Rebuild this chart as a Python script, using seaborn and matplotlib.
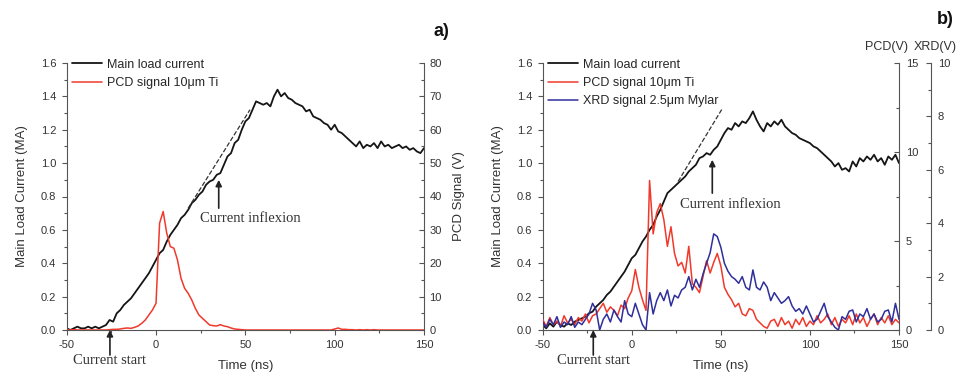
import matplotlib
matplotlib.use("Agg")
import matplotlib.pyplot as plt
import numpy as np
import seaborn as sns
from matplotlib.ticker import FormatStrFormatter, MultipleLocator

# time axis, 2 ns steps from -50 to 150 ns
t_ns = np.arange(-50, 151, 2)

# panel a) main load current (MA) and PCD signal (V)
current_a = [
    0.01, 0.00, 0.01, 0.02, 0.01, 0.01, 0.02, 0.01, 0.02, 0.01,
    0.02, 0.03, 0.06, 0.05, 0.10, 0.12, 0.15, 0.17, 0.19, 0.22,
    0.25, 0.28, 0.31, 0.34, 0.38, 0.42, 0.46, 0.48, 0.53, 0.57,
    0.60, 0.63, 0.67, 0.69, 0.72, 0.76, 0.78, 0.81, 0.83, 0.87,
    0.89, 0.90, 0.93, 0.94, 0.99, 1.04, 1.06, 1.12, 1.14, 1.20,
    1.25, 1.27, 1.32, 1.37, 1.36, 1.35, 1.36, 1.34, 1.40, 1.44,
    1.40, 1.42, 1.39, 1.38, 1.36, 1.35, 1.34, 1.31, 1.32, 1.28,
    1.27, 1.26, 1.24, 1.23, 1.20, 1.23, 1.19, 1.18, 1.16, 1.14,
    1.12, 1.10, 1.13, 1.09, 1.11, 1.10, 1.12, 1.09, 1.13, 1.10,
    1.11, 1.09, 1.10, 1.11, 1.09, 1.10, 1.08, 1.09, 1.07, 1.06,
    1.09,
]
pcd_a = [
    0.0, 0.0, 0.1, 0.0, 0.0, 0.0, 0.0, 0.0, 0.0, 0.0,
    0.0, 0.0, 0.1, 0.2, 0.2, 0.3, 0.5, 0.6, 0.5, 0.8,
    1.2, 2.0, 3.0, 4.5, 6.0, 8.0, 32.0, 35.5, 29.0, 25.0,
    24.5, 21.0, 15.5, 12.5, 11.0, 9.0, 6.5, 4.5, 3.5, 2.5,
    1.5, 1.3, 1.2, 1.6, 1.2, 1.0, 0.6, 0.3, 0.2, 0.1,
    0.0, 0.0, 0.0, 0.0, 0.0, 0.0, 0.0, 0.0, 0.0, 0.0,
    0.0, 0.0, 0.0, 0.0, 0.0, 0.0, 0.0, 0.0, 0.0, 0.0,
    0.0, 0.0, 0.0, 0.0, 0.0, 0.3, 0.6, 0.2, 0.2, 0.1,
    0.1, 0.0, 0.1, 0.0, 0.1, 0.0, 0.1, 0.0, 0.0, 0.0,
    0.0, 0.0, 0.0, 0.0, 0.0, 0.0, 0.0, 0.0, 0.0, 0.0,
    0.0,
]
tangent_a_t = [18, 52.6]
tangent_a_i = [0.73, 1.32]

# panel b) main load current (MA), PCD (V) and XRD (V)
current_b = [
    0.03, 0.01, 0.04, 0.02, 0.05, 0.03, 0.02, 0.04, 0.03, 0.05,
    0.06, 0.07, 0.08, 0.10, 0.11, 0.14, 0.16, 0.18, 0.21, 0.23,
    0.26, 0.29, 0.32, 0.35, 0.39, 0.43, 0.45, 0.49, 0.53, 0.56,
    0.60, 0.63, 0.68, 0.72, 0.77, 0.82, 0.84, 0.86, 0.88, 0.90,
    0.92, 0.95, 0.97, 0.99, 1.03, 1.04, 1.06, 1.05, 1.08, 1.10,
    1.14, 1.18, 1.21, 1.20, 1.24, 1.22, 1.25, 1.24, 1.27, 1.31,
    1.26, 1.22, 1.19, 1.24, 1.22, 1.25, 1.23, 1.26, 1.22, 1.20,
    1.18, 1.17, 1.15, 1.14, 1.13, 1.12, 1.10, 1.09, 1.07, 1.05,
    1.03, 1.01, 0.98, 1.00, 0.96, 0.97, 0.95, 1.01, 0.98, 1.03,
    1.01, 1.04, 1.02, 1.05, 1.01, 1.03, 0.99, 1.04, 1.02, 1.05,
    1.00,
]
pcd_b = [
    0.6, 0.2, 0.7, 0.3, 0.5, 0.2, 0.8, 0.4, 0.6, 0.3,
    0.7, 0.5, 0.9, 0.4, 0.8, 0.9, 1.2, 1.5, 1.0, 1.3,
    1.1, 0.8, 1.4, 1.2, 1.8, 2.2, 3.4, 2.4, 1.7, 1.1,
    8.4, 5.4, 6.6, 7.1, 6.2, 4.7, 5.8, 4.3, 3.6, 3.8,
    3.2, 4.7, 2.6, 2.4, 2.1, 3.0, 3.9, 3.2, 3.8, 4.3,
    3.6, 2.4, 2.0, 1.7, 1.3, 1.5, 0.9, 0.8, 1.2, 1.1,
    0.6, 0.4, 0.2, 0.1, 0.5, 0.6, 0.2, 0.7, 0.3, 0.5,
    0.1, 0.6, 0.3, 0.7, 0.2, 0.5, 0.3, 0.8, 0.4, 0.6,
    0.9, 0.3, 0.7, 0.2, 0.6, 0.4, 0.8, 0.3, 0.9, 0.4,
    0.7, 0.2, 0.6, 0.9, 0.3, 0.7, 0.4, 0.8, 0.3, 0.6,
    0.4,
]
xrd_b = [
    0.3, 0.1, 0.4, 0.2, 0.5, 0.1, 0.3, 0.2, 0.5, 0.1,
    0.3, 0.2, 0.4, 0.6, 1.0, 0.75, 0.0, 0.4, 0.6, 0.3,
    0.75, 0.5, 0.3, 1.1, 0.6, 0.5, 1.0, 0.6, 0.2, 0.0,
    1.4, 0.6, 1.1, 1.4, 1.1, 1.5, 0.9, 1.3, 1.2, 1.5,
    1.6, 2.0, 1.5, 1.9, 1.6, 2.1, 2.5, 2.9, 3.6, 3.5,
    3.1, 2.5, 2.2, 2.0, 1.9, 1.75, 2.0, 1.6, 1.5, 2.25,
    1.6, 1.5, 1.8, 1.6, 1.1, 1.4, 1.2, 1.0, 1.1, 1.25,
    0.9, 0.7, 0.8, 0.6, 0.9, 0.6, 0.3, 0.4, 0.7, 1.0,
    0.5, 0.3, 0.1, 0.0, 0.5, 0.4, 0.7, 0.75, 0.3, 0.6,
    0.5, 0.8, 0.4, 0.6, 0.3, 0.4, 0.7, 0.75, 0.3, 1.0,
    0.4,
]
tangent_b_t = [26, 51]
tangent_b_i = [0.89, 1.33]

x_ticks = [-50, 0, 50, 100, 150]

BLACK = "#151515"
RED = "#f0392b"
BLUE = "#2f2f9c"
GREY = "#555555"
TXT = "#333333"

sns.set_style("ticks")
plt.rcParams["font.family"] = ["Liberation Sans", "DejaVu Sans"]
plt.rcParams["axes.unicode_minus"] = False
plt.rcParams["axes.edgecolor"] = GREY
plt.rcParams["xtick.color"] = GREY
plt.rcParams["ytick.color"] = GREY
plt.rcParams["xtick.labelcolor"] = TXT
plt.rcParams["ytick.labelcolor"] = TXT
plt.rcParams["axes.labelcolor"] = TXT

fig = plt.figure(figsize=(9.61, 3.75), dpi=100)
bottom, height = 0.12, 0.712
ax_a = fig.add_axes([0.0694, bottom, 0.3718, height])
ax_b = fig.add_axes([0.5647, bottom, 0.3708, height])

serif = ["Liberation Serif", "DejaVu Serif"]


def style_left(ax):
    ax.set_xlim(-50, 150)
    ax.set_ylim(0, 1.6)
    ax.set_xticks(x_ticks)
    ax.xaxis.set_minor_locator(MultipleLocator(25))
    ax.yaxis.set_major_locator(MultipleLocator(0.2))
    ax.yaxis.set_minor_locator(MultipleLocator(0.1))
    ax.yaxis.set_major_formatter(FormatStrFormatter("%.1f"))
    ax.tick_params(which="both", direction="out", labelsize=8, pad=4, width=0.8)
    ax.tick_params(which="major", length=3.5)
    ax.tick_params(which="minor", length=2)
    ax.spines["top"].set_visible(False)
    ax.spines["right"].set_visible(False)
    ax.set_xlabel("Time (ns)", fontsize=9.5, labelpad=7)
    ax.set_ylabel("Main Load Current (MA)", fontsize=9.5, labelpad=9)


def style_right(ax, top, major, minor, pad=4):
    ax.set_ylim(0, top)
    ax.yaxis.set_major_locator(MultipleLocator(major))
    ax.yaxis.set_minor_locator(MultipleLocator(minor))
    ax.tick_params(axis="y", which="both", direction="in", labelsize=8, pad=pad, width=0.8)
    ax.tick_params(axis="y", which="major", length=3.5)
    ax.tick_params(axis="y", which="minor", length=2)
    ax.spines["top"].set_visible(False)
    ax.spines["left"].set_visible(False)
    ax.spines["bottom"].set_visible(False)


def drop_legend(ax):
    if ax.get_legend() is not None:
        ax.get_legend().remove()


def add_notes(ax, start_x, infl_x, infl_tip, infl_tail, infl_text_x, infl_text_y):
    arrow = dict(arrowstyle="-|>", color="#222222", lw=1.2, mutation_scale=9,
                 shrinkA=0, shrinkB=0)
    ax.annotate("", xy=(infl_x, infl_tip), xytext=(infl_x, infl_tail), arrowprops=arrow)
    ax.text(infl_text_x, infl_text_y, "Current inflexion", family=serif,
            fontsize=10.5, color=TXT, va="center", ha="left")
    ax.annotate("", xy=(start_x, 0.0), xytext=(start_x, -0.15), arrowprops=arrow,
                annotation_clip=False)
    ax.text(start_x, -0.185, "Current start", family=serif, fontsize=10.5,
            color=TXT, va="center", ha="center", clip_on=False)


legend_kw = dict(loc="upper left", bbox_to_anchor=(0.0, 1.035), frameon=False,
                 fontsize=9, handlelength=2.4, handletextpad=0.4, labelspacing=0.5,
                 borderaxespad=0)

# ---- panel a
style_left(ax_a)
sns.lineplot(x=t_ns, y=current_a, ax=ax_a, color=BLACK, lw=1.3, label="Main load current")
sns.lineplot(x=tangent_a_t, y=tangent_a_i, ax=ax_a, color="#333333", lw=0.9, linestyle="--")
ax_a2 = ax_a.twinx()
sns.lineplot(x=t_ns, y=pcd_a, ax=ax_a2, color=RED, lw=1.1, label="PCD signal 10\u03bcm Ti")
style_right(ax_a2, 80, 10, 5)
ax_a2.set_ylabel("PCD Signal (V)", fontsize=9.5, labelpad=8)
drop_legend(ax_a)
drop_legend(ax_a2)
h1, l1 = ax_a.get_legend_handles_labels()
h2, l2 = ax_a2.get_legend_handles_labels()
ax_a2.legend(h1 + h2, l1 + l2, **legend_kw)
add_notes(ax_a, -25.8, 35.1, 0.90, 0.73, 24.6, 0.67)

# ---- panel b
style_left(ax_b)
sns.lineplot(x=t_ns, y=current_b, ax=ax_b, color=BLACK, lw=1.3, label="Main load current")
sns.lineplot(x=tangent_b_t, y=tangent_b_i, ax=ax_b, color="#333333", lw=0.9, linestyle="--")
ax_b2 = ax_b.twinx()
sns.lineplot(x=t_ns, y=pcd_b, ax=ax_b2, color=RED, lw=1.1, label="PCD signal 10\u03bcm Ti")
style_right(ax_b2, 15, 5, 2.5, pad=5)
ax_b2.set_ylabel("")
ax_b3 = ax_b.twinx()
ax_b3.spines["right"].set_position(("axes", 1.089))
sns.lineplot(x=t_ns, y=xrd_b, ax=ax_b3, color=BLUE, lw=1.1, label="XRD signal 2.5\u03bcm Mylar")
style_right(ax_b3, 10, 2, 1, pad=5)
ax_b3.set_ylabel("")
for a in (ax_b, ax_b2, ax_b3):
    drop_legend(a)
hs, ls = [], []
for a in (ax_b, ax_b2, ax_b3):
    h, l = a.get_legend_handles_labels()
    hs += h
    ls += l
ax_b3.legend(hs, ls, **legend_kw)
add_notes(ax_b, -21.6, 45.2, 1.02, 0.82, 27.1, 0.75)

fig.text(865 / 961, 1 - 47 / 375, "PCD(V)", fontsize=9, color=TXT, va="center", ha="left")
fig.text(914 / 961, 1 - 47 / 375, "XRD(V)", fontsize=9, color=TXT, va="center", ha="left")
fig.text(433 / 961, 1 - 32 / 375, "a)", fontsize=13, fontweight="bold", color="#111111",
         va="center", ha="left")
fig.text(937 / 961, 1 - 20 / 375, "b)", fontsize=13, fontweight="bold", color="#111111",
         va="center", ha="left")

fig.savefig("out.png", dpi=100)
